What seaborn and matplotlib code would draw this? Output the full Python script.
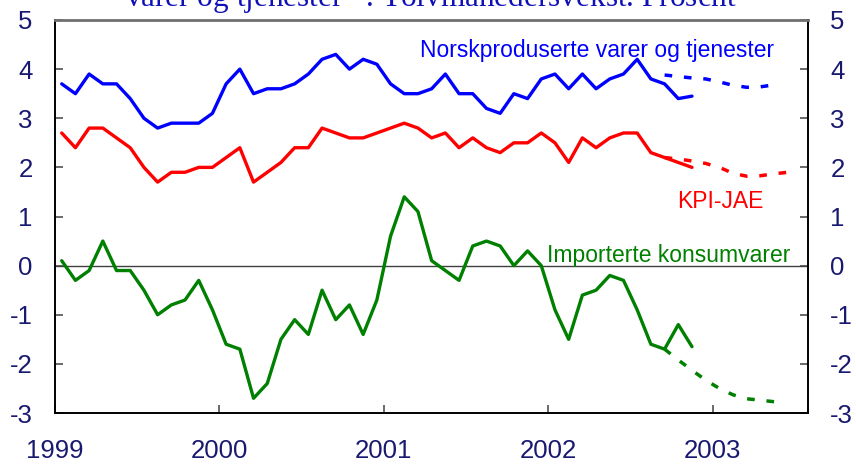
import numpy as np
import pandas as pd
import seaborn as sns
import matplotlib
matplotlib.use('Agg')
import matplotlib.pyplot as plt

# 12-månedersvekst, prosent (jan 1999 - nov 2002)
norsk = [3.7, 3.5, 3.9, 3.7, 3.7, 3.4, 3.0, 2.8, 2.9, 2.9, 2.9, 3.1,
         3.7, 4.0, 3.5, 3.6, 3.6, 3.7, 3.9, 4.2, 4.3, 4.0, 4.2, 4.1,
         3.7, 3.5, 3.5, 3.6, 3.9, 3.5, 3.5, 3.2, 3.1, 3.5, 3.4, 3.8,
         3.9, 3.6, 3.9, 3.6, 3.8, 3.9, 4.2, 3.8, 3.7, 3.4, 3.45]
kpi_jae = [2.7, 2.4, 2.8, 2.8, 2.6, 2.4, 2.0, 1.7, 1.9, 1.9, 2.0, 2.0,
           2.2, 2.4, 1.7, 1.9, 2.1, 2.4, 2.4, 2.8, 2.7, 2.6, 2.6, 2.7,
           2.8, 2.9, 2.8, 2.6, 2.7, 2.4, 2.6, 2.4, 2.3, 2.5, 2.5, 2.7,
           2.5, 2.1, 2.6, 2.4, 2.6, 2.7, 2.7, 2.3, 2.2, 2.1, 2.0]
import_kv = [0.1, -0.3, -0.1, 0.5, -0.1, -0.1, -0.5, -1.0, -0.8, -0.7, -0.3, -0.9,
             -1.6, -1.7, -2.7, -2.4, -1.5, -1.1, -1.4, -0.5, -1.1, -0.8, -1.4, -0.7,
             0.6, 1.4, 1.1, 0.1, -0.1, -0.3, 0.4, 0.5, 0.4, 0.0, 0.3, 0.0,
             -0.9, -1.5, -0.6, -0.5, -0.2, -0.3, -0.9, -1.6, -1.7, -1.2, -1.65]

# anslag fra sep 2002
fc_start = 44
norsk_fc = [3.88, 3.85, 3.82, 3.80, 3.74, 3.67, 3.63, 3.64, 3.68]
kpi_jae_fc = [2.2, 2.17, 2.13, 2.08, 2.0, 1.88, 1.82, 1.83, 1.87, 1.9]
import_kv_fc = [-1.7, -1.92, -2.13, -2.33, -2.5, -2.63, -2.71, -2.74, -2.77]

years = [1999, 2000, 2001, 2002, 2003]
yticks = [-3, -2, -1, 0, 1, 2, 3, 4, 5]

blue, red, green = '#0000ff', '#ff0000', '#008000'
navy = '#191970'

sns.set_style('ticks')
plt.rcParams['font.family'] = ['Liberation Sans', 'DejaVu Sans']
plt.rcParams['axes.unicode_minus'] = False


def month_x(start, n):
    # midt i måneden, i desimalår
    return 1999 + (np.arange(start, start + n) + 0.5) / 12


fig = plt.figure(figsize=(8.56, 4.65), dpi=100)
ax = fig.add_axes([0.0641, 0.1118, 0.8799, 0.8452])

series = [(norsk, norsk_fc, blue), (kpi_jae, kpi_jae_fc, red), (import_kv, import_kv_fc, green)]
for vals, fc, col in series:
    df = pd.DataFrame({'x': month_x(0, len(vals)), 'y': vals})
    sns.lineplot(data=df, x='x', y='y', color=col, lw=2.4, estimator=None, ax=ax)
    dff = pd.DataFrame({'x': month_x(fc_start, len(fc)), 'y': fc})
    sns.lineplot(data=dff, x='x', y='y', color=col, lw=2.5, estimator=None,
                 linestyle=(0, (2.2, 3.4)), ax=ax)

ax.axhline(0, color='#404040', lw=1.0, zorder=1)

ax.set_xlim(1999, 2003.581)
ax.set_ylim(-3, 5)
ax.set_xticks(years)
ax.set_xticklabels([str(y) for y in years])
ax.set_yticks(yticks)
ax.set_xlabel('')
ax.set_ylabel('')

ax.tick_params(axis='y', which='both', direction='in', length=6, width=1.2,
               color='#505050', left=True, right=True, labelleft=True,
               labelright=True, labelsize=18.5, labelcolor=navy, pad=16)
ax.tick_params(axis='x', direction='in', length=6, width=1.2, color='#505050',
               labelsize=18.5, labelcolor=navy, pad=19)

for side in ['left', 'bottom', 'right']:
    ax.spines[side].set_color('black')
    ax.spines[side].set_linewidth(1.4)
ax.spines['top'].set_color('#707070')
ax.spines['top'].set_linewidth(2)

# seriebetegnelser
ax.text(2001.221, 4.253, 'Norskproduserte varer og tjenester', color=blue,
        fontsize=16.5, ha='left', va='baseline')
ax.text(2002.782, 1.171, 'KPI-JAE', color=red, fontsize=16.5, ha='left', va='baseline')
ax.text(2001.991, 0.077, 'Importerte konsumvarer', color=green, fontsize=16.5,
        ha='left', va='baseline')

# tittel (øverste del faller utenfor bildet)
fig.text(0.504, 1 - 6.5 / 465, 'varer og tjenester$^{1)}$. Tolvmånedersvekst. Prosent',
         color='#1010b8', fontsize=22.5, ha='center', va='baseline',
         family=['Liberation Serif', 'DejaVu Serif'])

fig.savefig('out.png', dpi=100)
